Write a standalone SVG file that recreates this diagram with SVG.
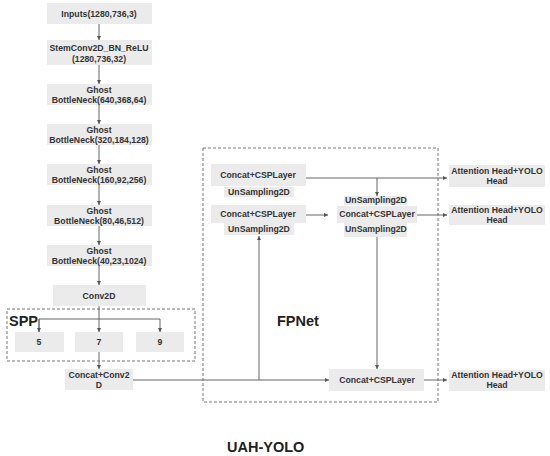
<svg xmlns="http://www.w3.org/2000/svg" width="550" height="456" viewBox="0 0 550 456">
<style>
.b{fill:#ebebeb;stroke:none}
.t{font-family:"Liberation Sans",Arial,sans-serif;font-weight:bold;font-size:8.7px;fill:#333;text-anchor:middle}
.big{font-family:"Liberation Sans",Arial,sans-serif;font-weight:bold;font-size:14.5px;fill:#222}
.l{stroke:#666;stroke-width:1;fill:none}
.d{stroke:#777;stroke-width:1;fill:none;stroke-dasharray:3,2}
</style>
<defs>
<marker id="a" markerWidth="4" markerHeight="4" refX="4" refY="2" orient="auto" markerUnits="userSpaceOnUse">
<path d="M0,0 L4,2 L0,4 z" fill="#555"/>
</marker>
</defs>
<rect width="550" height="456" fill="#fff"/>
<g id="spp"><rect class="d" x="7" y="309" width="188" height="52"/><text class="big" x="9" y="326">SPP</text></g>
<g id="fpnet"><rect class="d" x="203" y="148" width="235" height="254"/><text class="big" x="277" y="326">FPNet</text></g>
<g id="connectors">
<path class="l" d="M99,24 V40" marker-end="url(#a)"/>
<path class="l" d="M99,65 V84" marker-end="url(#a)"/>
<path class="l" d="M99,105 V124" marker-end="url(#a)"/>
<path class="l" d="M99,145 V164" marker-end="url(#a)"/>
<path class="l" d="M99,184 V205" marker-end="url(#a)"/>
<path class="l" d="M99,226 V245" marker-end="url(#a)"/>
<path class="l" d="M99,266 V285" marker-end="url(#a)"/>
<path class="l" d="M99,306 V332" marker-end="url(#a)"/>
<path class="l" d="M39,332 V319 H160 V332" marker-end="url(#a)"/>
<path class="l" d="M39,319 V332" marker-end="url(#a)"/>
<path class="l" d="M99,352 V369" marker-end="url(#a)"/>
<path class="l" d="M133,380 H329" marker-end="url(#a)"/>
<path class="l" d="M259,380 V236" marker-end="url(#a)"/>
<path class="l" d="M306,178 H447" marker-end="url(#a)"/>
<path class="l" d="M377,178 V196" marker-end="url(#a)"/>
<path class="l" d="M306,215 H328" marker-end="url(#a)"/>
<path class="l" d="M417,215 H447" marker-end="url(#a)"/>
<path class="l" d="M377,237 V369" marker-end="url(#a)"/>
<path class="l" d="M424,380 H447" marker-end="url(#a)"/>
</g>
<g id="inputs"><rect class="b" x="47" y="3" width="105" height="21"/><text class="t" x="99" y="17">Inputs(1280,736,3)</text></g>
<g id="stem"><rect class="b" x="47" y="40" width="105" height="25"/><text class="t" x="99" y="51">StemConv2D_BN_ReLU</text><text class="t" x="99" y="62">(1280,736,32)</text></g>
<g id="g1"><rect class="b" x="47" y="84" width="105" height="21"/><text class="t" x="99" y="93">Ghost</text><text class="t" x="99" y="103">BottleNeck(640,368,64)</text></g>
<g id="g2"><rect class="b" x="47" y="124" width="105" height="21"/><text class="t" x="99" y="133">Ghost</text><text class="t" x="99" y="143">BottleNeck(320,184,128)</text></g>
<g id="g3"><rect class="b" x="47" y="164" width="105" height="21"/><text class="t" x="99" y="173">Ghost</text><text class="t" x="99" y="183">BottleNeck(160,92,256)</text></g>
<g id="g4"><rect class="b" x="47" y="205" width="105" height="21"/><text class="t" x="99" y="214">Ghost</text><text class="t" x="99" y="224">BottleNeck(80,46,512)</text></g>
<g id="g5"><rect class="b" x="47" y="245" width="105" height="21"/><text class="t" x="99" y="254">Ghost</text><text class="t" x="99" y="264">BottleNeck(40,23,1024)</text></g>
<g id="conv2d"><rect class="b" x="53" y="285" width="93" height="21"/><text class="t" x="99" y="299">Conv2D</text></g>
<g id="s5"><rect class="b" x="15" y="332" width="49" height="20"/><text class="t" x="39" y="345">5</text></g>
<g id="s7"><rect class="b" x="75" y="332" width="48" height="20"/><text class="t" x="99" y="345">7</text></g>
<g id="s9"><rect class="b" x="136" y="332" width="48" height="20"/><text class="t" x="160" y="345">9</text></g>
<g id="cc"><rect class="b" x="65" y="369" width="68" height="21"/><text class="t" x="99" y="378">Concat+Conv2</text><text class="t" x="99" y="388">D</text></g>
<g id="csp1"><rect class="b" x="211" y="164" width="95" height="22"/><text class="t" x="258" y="178">Concat+CSPLayer</text></g>
<g id="up1"><rect class="b" x="224" y="187" width="70" height="10"/><text class="t" x="259" y="195">UnSampling2D</text></g>
<g id="csp2"><rect class="b" x="211" y="205" width="95" height="18"/><text class="t" x="258" y="217">Concat+CSPLayer</text></g>
<g id="up2"><rect class="b" x="224" y="223" width="70" height="12"/><text class="t" x="259" y="232">UnSampling2D</text></g>
<g id="up3"><rect class="b" x="344" y="196" width="63" height="9"/><text class="t" x="376" y="203">UnSampling2D</text></g>
<g id="csp3"><rect class="b" x="337" y="206" width="80" height="17"/><text class="t" x="377" y="217">Concat+CSPLayer</text></g>
<g id="up4"><rect class="b" x="344" y="223" width="63" height="14"/><text class="t" x="376" y="232">UnSampling2D</text></g>
<g id="csp4"><rect class="b" x="329" y="369" width="95" height="22"/><text class="t" x="377" y="383">Concat+CSPLayer</text></g>
<g id="h1"><rect class="b" x="449" y="165" width="96" height="22"/><text class="t" x="497" y="174">Attention Head+YOLO</text><text class="t" x="497" y="184">Head</text></g>
<g id="h2"><rect class="b" x="449" y="205" width="96" height="20"/><text class="t" x="497" y="213">Attention Head+YOLO</text><text class="t" x="497" y="223">Head</text></g>
<g id="h3"><rect class="b" x="449" y="370" width="96" height="21"/><text class="t" x="497" y="378">Attention Head+YOLO</text><text class="t" x="497" y="388">Head</text></g>
<text class="big" x="227" y="452">UAH-YOLO</text>
</svg>
